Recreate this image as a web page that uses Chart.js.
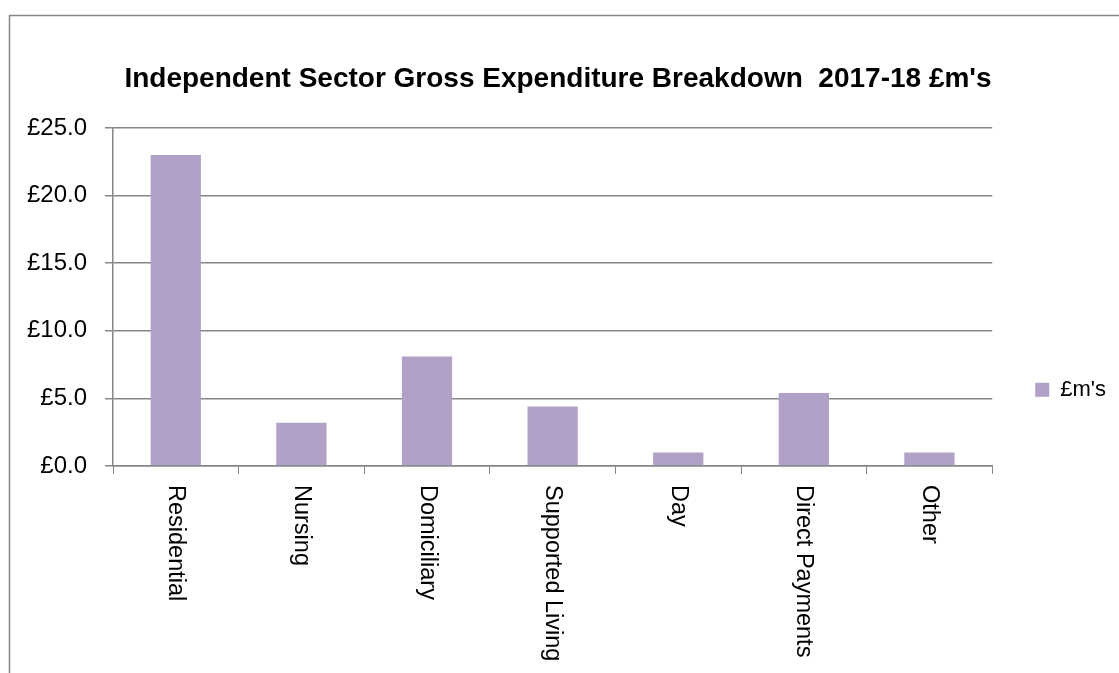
<!DOCTYPE html>
<html>
<head>
<meta charset="utf-8">
<script src="https://cdn.jsdelivr.net/npm/chart.js@4.4.0/dist/chart.umd.min.js"></script>
<style>
html,body{margin:0;padding:0;background:#fff;}
#wrap{position:relative;width:1119px;height:673px;}
</style>
</head>
<body>
<div id="wrap"><canvas id="c" width="1119" height="673"></canvas></div>
<script>
const categories = ["Residential", "Nursing", "Domiciliary", "Supported Living", "Day", "Direct Payments", "Other"];
const seriesName = "£m's";
const values = [23.0, 3.2, 8.1, 4.4, 1.0, 5.4, 1.0];
const yTicks = [0, 5, 10, 15, 20, 25];
const titleText = "Independent Sector Gross Expenditure Breakdown  2017-18 £m's";

const FONT = "'Liberation Sans', Arial, sans-serif";
const GRID = '#868686';

const framePlugin = {
  id: 'frame',
  beforeDraw(chart) {
    const ctx = chart.ctx;
    ctx.save();
    ctx.fillStyle = '#fff';
    ctx.fillRect(0, 0, chart.width, chart.height);
    ctx.strokeStyle = GRID;
    ctx.lineWidth = 1.5;
    ctx.strokeRect(9.5, 15.5, 1300, 900);
    ctx.restore();
  }
};

const xLabelPlugin = {
  id: 'xlabels',
  afterDraw(chart) {
    const ctx = chart.ctx;
    const sx = chart.scales.x;
    ctx.save();
    ctx.fillStyle = '#000';
    ctx.font = "23.5px " + FONT;
    ctx.textAlign = 'left';
    ctx.textBaseline = 'middle';
    categories.forEach((lab, i) => {
      const x = sx.getPixelForTick(i);
      ctx.save();
      ctx.translate(x, sx.top + 19);
      ctx.rotate(Math.PI / 2);
      ctx.fillText(lab, 0, 0);
      ctx.restore();
    });
    ctx.restore();
  }
};

new Chart(document.getElementById('c'), {
  type: 'bar',
  data: {
    labels: categories,
    datasets: [{
      label: seriesName,
      data: values,
      backgroundColor: '#B1A0C7',
      borderWidth: 0,
      categoryPercentage: 1.0,
      barPercentage: 0.4
    }]
  },
  options: {
    responsive: false,
    animation: false,
    devicePixelRatio: 1,
    layout: { padding: { left: 0, right: 3, top: 0, bottom: 0 } },
    plugins: {
      title: {
        display: true,
        text: titleText,
        color: '#000',
        font: { family: FONT, size: 28, weight: 'bold', lineHeight: 1.25 },
        padding: { top: 62, bottom: 31 }
      },
      legend: {
        position: 'right',
        align: 'center',
        labels: {
          color: '#000',
          font: { family: FONT, size: 22 },
          boxWidth: 14,
          boxHeight: 14,
          padding: 43
        },
        title: { display: true, text: ' ', font: { size: 12 }, padding: { top: 0, bottom: 92 } }
      },
      tooltip: { enabled: false }
    },
    scales: {
      x: {
        grid: { display: true, drawOnChartArea: false, drawTicks: true, tickLength: 8, color: GRID, offset: true },
        border: { display: true, color: GRID, width: 1.5 },
        ticks: { display: false },
        afterFit(scale) { scale.height = 207; }
      },
      y: {
        min: 0,
        max: 25,
        afterBuildTicks(scale) { scale.ticks = yTicks.map(v => ({ value: v })); },
        grid: { color: GRID, lineWidth: 1.5, tickLength: 8 },
        border: { display: true, color: GRID, width: 1.5 },
        ticks: {
          color: '#000',
          font: { family: FONT, size: 24 },
          padding: 18,
          callback: v => '£' + Number(v).toFixed(1)
        },
        afterFit(scale) { scale.width = 113; }
      }
    }
  },
  plugins: [framePlugin, xLabelPlugin]
});
</script>
</body>
</html>
